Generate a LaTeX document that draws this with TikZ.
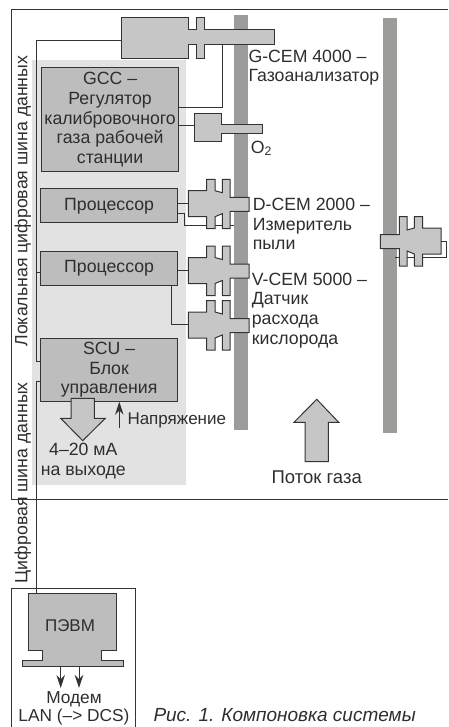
\documentclass[tikz,border=0pt]{standalone}
\usepackage{fontspec}
\setmainfont{Liberation Sans}
\usetikzlibrary{arrows.meta, positioning}
\definecolor{ink}{HTML}{333333}
\definecolor{boxgray}{HTML}{BDBDBD}
\definecolor{sensorgray}{HTML}{C6C6C6}
\definecolor{wallgray}{HTML}{9C9C9A}
\definecolor{zonegray}{HTML}{E2E2E2}
\spaceskip=10pt

\begin{document}
\begin{tikzpicture}[
    x=1pt, y=-1pt,
    every node/.style={font=\fontsize{17.7}{19.7}\selectfont, text=ink!90!black, inner sep=0pt},
    line/.style={draw=ink, line width=1pt},
    box/.style={line, fill=boxgray, align=center, minimum width=137.6pt},
    block/.style={line, fill=sensorgray, line join=miter},
    wall/.style={fill=wallgray},
    note/.style={align=left, anchor=west},
    arr/.style={-{Stealth[length=13pt, width=8.5pt]}, line},
    sensor/.pic={
        \coordinate (-in) at (0,13);
        \coordinate (-out) at (0,23);
        \draw[block] (0,0) -- (18.4,0) -- (18.4,-11.4) -- (26.7,-11.4) -- (26.7,0) -- (34,2)
            -- (34,-11.4) -- (41.7,-11.4) -- (41.7,6.6) -- (60.7,6.6) -- (60.7,20.6) -- (41.7,20.6)
            -- (41.7,38) -- (34,38) -- (34,23) -- (26.7,26) -- (26.7,38) -- (18.4,38) -- (18.4,26)
            -- (0,26) -- cycle;
    }
]
\useasboundingbox (0,0) rectangle (448,727);

\fill[zonegray] (32,60) rectangle (185.5,485);
\fill[wall] (234,15) rectangle (248,430);
\fill[wall] (383,18) rectangle (397,432.7);
\draw[line] (448,9.3) -- (11.7,9.3) -- (11.7,499.3) -- (448,499.3);
\draw[line] (11.7,727) -- (11.7,588.3) -- (135.3,588.3) -- (135.3,727);

\node[box, minimum height=104.3pt] (gcc) at (110.1,119.8) {GCC –\\Регулятор\hspace*{8pt}\\калибровочного\\газа рабочей\hspace*{8pt}\\станции};
\node[box, minimum height=34pt, below=16pt of gcc, xshift=-1pt] (proc1) {Процессор};
\node[box, minimum height=34.4pt, below=27.3pt of proc1] (proc2) {Процессор};
\node[box, minimum height=63pt, below=51.6pt of proc2] (scu) {SCU –\\Блок\\управления};

\coordinate (gcemin) at (121.7,41);
\coordinate (gcemtap) at (222.7,45);
\coordinate (gcctap) at (179,107.3);
\coordinate (o2in) at (194.5,125.3);
\coordinate (busa) at (36,361.7);
\coordinate (busb) at (36,381.7);
\coordinate (dcemend) at (234.3,225);
\coordinate (dcemknee) at (184.3,213.3);
\coordinate (vcemknee) at (171,324.3);
\coordinate (rightend) at (395.3,257.3);
\coordinate (rightknee) at (446,241);

\node[anchor=center, minimum width=88.4pt, minimum height=57.4pt] (pc) at (72.5,622) {};

\draw[line] (gcemin) -| (busa) -- (busa -| scu.west);
\draw[line] (busb -| scu.west) -- (busb) -- (busb |- pc.north);
\draw[line] ([yshift=-4.2pt]proc2.west) -- ([yshift=-4.2pt]proc2.west -| busa);
\draw[line] (gcemtap) |- (gcctap);
\draw[line] (o2in -| gcc.east) -- (o2in);
\draw[line] (proc1.east |- dcemknee) -- (dcemknee) |- (dcemend);
\draw[line] (rightknee) ++(-5.3,0) -- (rightknee) |- (rightend);

\draw[block] (gcemin |- 0,17.3) -- (188.3,17.3) -- (188.3,30) -- (196,30) -- (196,17.3) -- (204.3,17.3)
    -- (204.3,30) -- (274.7,30) -- (274.7,45) -- (204.3,45) -- (204.3,59) -- (196,59) -- (196,45)
    -- (188.3,45) -- (188.3,59) -- (121.7,59) -- cycle;
\draw[block] (o2in |- 0,114) -- (221,114) -- (221,124.7) -- (262.3,124.7) -- (262.3,133.7) -- (221,133.7)
    -- (221,142) -- (194.5,142) -- cycle;

\pic (dcem) at (188.3,190.7) {sensor};
\pic (vcem) at (188.3,257.5) {sensor};
\pic (ocem) at (188.3,312) {sensor};
\pic[xscale=-1] (rcem) at (441,228) {sensor};

\draw[line] (proc1.east |- dcem-in) -- (dcem-in);
\draw[line] (proc2.east |- vcem-in) -- (vcem-in);
\draw[line] (vcemknee |- proc2.south) -- (vcemknee) -- (ocem-out |- vcemknee);

\draw[block] (71,398.3) -- (94.3,398.3) -- (94.3,418.3) -- (105.3,418.3) -- (82.7,440.7) -- (60.7,418.3)
    -- (71,418.3) -- cycle;
\draw[block] (305,461.7) -- (305,422.3) -- (294,422.3) -- (316.7,399.3) -- (338.7,422.3) -- (328.3,422.3)
    -- (328.3,461.7) -- cycle;
\coordinate (voltage) at (119.3,428.3);
\draw[arr] (voltage) -- (voltage |- scu.south);

\draw[block, fill=boxgray] (28.3,593.3) -- (116.7,593.3) -- (116.7,650.7) -- (101.7,650.7) -- (101.7,660)
    -- (123.3,660) -- (123.3,666.7) -- (22.7,666.7) -- (22.7,660) -- (42.7,660) -- (42.7,650.7)
    -- (28.3,650.7) -- cycle;
\node[font=\fontsize{17}{19.7}\selectfont] (pctext) at (70,625.7) {ПЭВМ};
\coordinate (pcouta) at (60.7,666.7);
\coordinate (pcoutb) at (79,666.7);
\coordinate (modema) at (60.7,688);
\coordinate (modemb) at (79,688);
\draw[arr] (pcouta) -- (modema);
\draw[arr] (pcoutb) -- (modemb);

\node[rotate=90, anchor=base west] (lbus) at (27.3,346.7) {Локальная цифровая шина данных};
\node[rotate=90, anchor=base west] (dbus) at (27.3,583.3) {Цифровая шина данных};

\node[note] (gcem) at (248.3,67.7) {G-CEM 4000 –\\Газоанализатор};
\node[note] (o2) at (250.7,148.3) {O\textsubscript{2}};
\node[note] (dtext) at (252.7,224) {D-CEM 2000 –\\Измеритель\\пыли};
\node[note] (vtext) at (251.7,310.5) {V-CEM 5000 –\\Датчик\\расхода\\кислорода};
\node[anchor=west, font=\fontsize{17}{19.7}\selectfont] (volt) at (127.3,420.7) {Напряжение};
\node[align=center] (ma) at (83.3,461) {4–20 мА\\на выходе};
\node[font=\fontsize{18.5}{19.7}\selectfont] (flow) at (316.7,477.7) {Поток газа};
\node[align=center, font=\fontsize{17.3}{18.5}\selectfont] (modem) at (74,708.5) {Модем\\LAN (–> DCS)};
\node[anchor=base west, font=\fontsize{19}{19.7}\selectfont\itshape] (caption) at (153.3,721.5) {Рис. 1. Компоновка системы};
\end{tikzpicture}
\end{document}
